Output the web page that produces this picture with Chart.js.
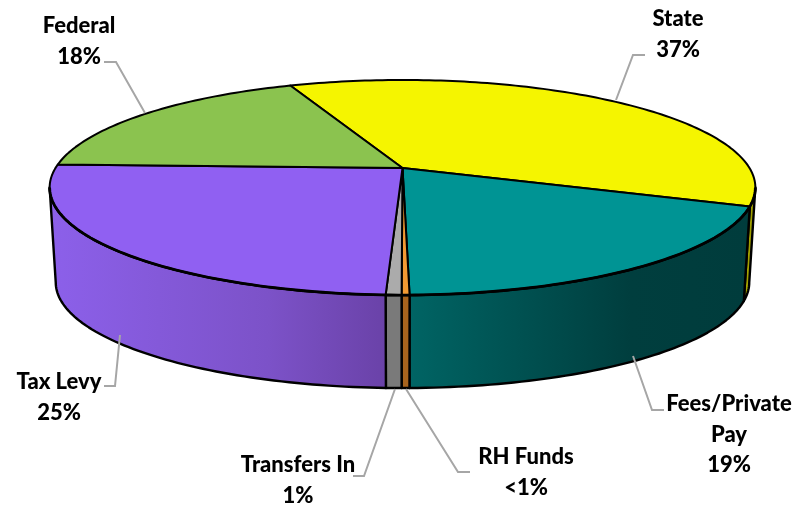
<!DOCTYPE html>
<html>
<head>
<meta charset="utf-8">
<title>Funding sources</title>
<style>
    html, body { margin: 0; padding: 0; background: #fff; }
    canvas { display: block; }
</style>
<script src="https://cdn.jsdelivr.net/npm/chart.js@4/dist/chart.umd.min.js"></script>
</head>
<body>
<canvas id="grafico" width="809" height="509"></canvas>
<script>
// categories and slice sizes, clockwise from the Federal/State edge
var categorie = ['State', 'Fees/Private Pay', 'RH Funds', 'Transfers In', 'Tax Levy', 'Federal'];
var valori = [36.8, 19.1, 0.3, 0.6, 24.9, 18.3];
var etichette = [['State', '37%'], ['Fees/Private', 'Pay', '19%'], ['RH Funds', '<1%'], ['Transfers In', '1%'], ['Tax Levy', '25%'], ['Federal', '18%']];

var coloriTop = ['#F5F500', '#009494', '#F29A33', '#ABABAB', '#9060F2', '#8BC34F'];
var coloriLato = [['#A8A800', '#A0A000', '#8C8C00'], ['#006464', '#003E3E', '#003C3C'], ['#A8641E', '#A8641E', '#A8641E'], ['#7A7A7A', '#7A7A7A', '#7A7A7A'], ['#8C60EA', '#7C52C8', '#6A42A8'], ['#6F9C3F', '#658E38', '#5A8030']];

// label layout: text centre x, first line y, leader points
var posTesto = [[678, 19], [729, 404], [526, 457], [298, 465], [59, 382], [79, 26]];
var lineHeight = 30.5;
var leader = [
    [[645, 55], [633, 55], [616, 100]],
    [[664, 410], [652, 410], [633, 356]],
    [[470, 472], [458, 472], [406, 389]],
    [[353, 476], [364, 476], [395, 389]],
    [[104, 386], [115, 386], [120, 335]],
    [[104, 62], [116, 62], [145, 113]]
];

// projection of the tilted disc, top plane and bottom plane
var pianoTop = { cx: 402.5, cy: 168, a: 347, b: 104, k: 0.1814 };
var pianoBase = { cx: 402.5, cy: 263.2, a: 341, b: 102.2, k: 0.1814 };

function proietta(p, ang) {
    var w = 1 - p.k * Math.sin(ang);
    return [p.cx + p.a * Math.cos(ang) / w, p.cy + p.b * Math.sin(ang) / w];
}

function campiona(inizio, fine) {
    var n = Math.max(2, Math.ceil((fine - inizio) / 0.02));
    var out = [];
    for (var i = 0; i <= n; i++) {
        out.push(inizio + (fine - inizio) * i / n);
    }
    return out;
}

var torta3d = {
    id: 'torta3d',
    beforeDatasetsDraw: function (chart) {
        var ctx = chart.ctx;
        var archi = chart.getDatasetMeta(0).data;
        // the wall only faces the viewer between these two angles
        var fronteDa = Math.asin(pianoTop.k);
        var fronteA = Math.PI - fronteDa;
        ctx.save();
        ctx.lineJoin = 'round';
        ctx.strokeStyle = '#000';

        // side walls
        archi.forEach(function (arco, i) {
            var da = Math.max(arco.startAngle, fronteDa);
            var a = Math.min(arco.endAngle, fronteA);
            if (a <= da) { return; }
            var angoli = campiona(da, a);
            var sopra = angoli.map(function (t) { return proietta(pianoTop, t); });
            var sotto = angoli.map(function (t) { return proietta(pianoBase, t); });
            var xs = sopra.concat(sotto).map(function (q) { return q[0]; });
            var grad = ctx.createLinearGradient(Math.min.apply(null, xs), 0, Math.max.apply(null, xs), 0);
            grad.addColorStop(0, coloriLato[i][0]);
            grad.addColorStop(0.65, coloriLato[i][1]);
            grad.addColorStop(1, coloriLato[i][2]);
            ctx.beginPath();
            sopra.forEach(function (q, j) {
                if (j === 0) { ctx.moveTo(q[0], q[1]); } else { ctx.lineTo(q[0], q[1]); }
            });
            sotto.reverse().forEach(function (q) { ctx.lineTo(q[0], q[1]); });
            ctx.closePath();
            ctx.fillStyle = grad;
            ctx.fill();
            ctx.lineWidth = 2.4;
            ctx.stroke();
        });

        // top faces
        archi.forEach(function (arco, i) {
            var angoli = campiona(arco.startAngle, arco.endAngle);
            ctx.beginPath();
            ctx.moveTo(pianoTop.cx, pianoTop.cy);
            angoli.forEach(function (t) {
                var q = proietta(pianoTop, t);
                ctx.lineTo(q[0], q[1]);
            });
            ctx.closePath();
            ctx.fillStyle = coloriTop[i];
            ctx.fill();
            ctx.lineWidth = 2;
            ctx.stroke();
        });

        // the near rim reads heavier than the far one
        ctx.beginPath();
        campiona(fronteDa, fronteA).forEach(function (t, j) {
            var q = proietta(pianoTop, t);
            if (j === 0) { ctx.moveTo(q[0], q[1]); } else { ctx.lineTo(q[0], q[1]); }
        });
        ctx.lineWidth = 2.8;
        ctx.stroke();
        ctx.restore();
        return false;
    },
    afterDraw: function (chart) {
        var ctx = chart.ctx;
        ctx.save();
        ctx.strokeStyle = '#A6A6A6';
        ctx.lineWidth = 2;
        leader.forEach(function (punti) {
            ctx.beginPath();
            ctx.moveTo(punti[0][0], punti[0][1]);
            ctx.lineTo(punti[1][0], punti[1][1]);
            ctx.lineTo(punti[2][0], punti[2][1]);
            ctx.stroke();
        });
        ctx.fillStyle = '#000';
        ctx.font = '900 22px Lato';
        ctx.textAlign = 'center';
        ctx.textBaseline = 'middle';
        etichette.forEach(function (righe, i) {
            righe.forEach(function (riga, j) {
                ctx.fillText(riga, posTesto[i][0], posTesto[i][1] + j * lineHeight);
            });
        });
        ctx.restore();
    }
};

var chart = new Chart(document.getElementById('grafico'), {
    type: 'pie',
    data: {
        labels: categorie,
        datasets: [{
            label: 'Funding',
            data: valori,
            backgroundColor: coloriTop
        }]
    },
    options: {
        responsive: false,
        animation: false,
        rotation: -22.2,
        plugins: {
            legend: { display: false },
            tooltip: { enabled: false }
        }
    },
    plugins: [torta3d]
});
</script>
</body>
</html>
